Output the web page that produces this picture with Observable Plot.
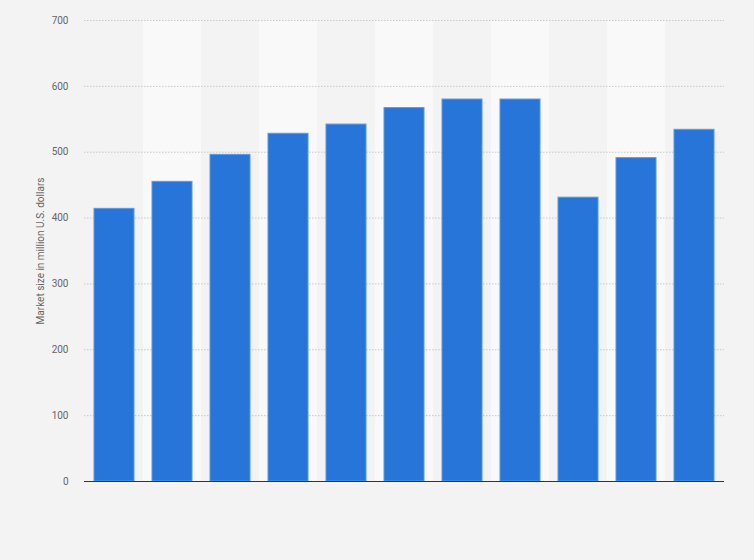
<!DOCTYPE html>
<html>
<head>
<meta charset="utf-8">
<script src="https://cdn.jsdelivr.net/npm/d3@7"></script>
<script src="https://cdn.jsdelivr.net/npm/@observablehq/plot@0.6"></script>
<style>
  html, body { margin: 0; padding: 0; background: #f3f3f3; }
  #chart { width: 754px; height: 560px; }
  svg { font-family: Roboto, "Liberation Sans", sans-serif; }
</style>
</head>
<body>
<div id="chart"></div>
<script>
const categories = ["2010", "2011", "2012", "2013", "2014", "2015", "2016", "2017", "2018", "2019", "2020"];
const values = [414, 455, 496, 528, 542, 567, 580, 580, 431, 491, 534];
const yTicks = [0, 100, 200, 300, 400, 500, 600, 700];
const yLabel = "Market size in million U.S. dollars";

const data = categories.map((c, i) => ({category: c, value: values[i], index: i}));
const stripes = data.filter(d => d.index % 2 === 1);

const width = 754, height = 560;
const margin = {top: 20, right: 30, bottom: 79, left: 84};
const padding = 0.31;
const step = (width - margin.left - margin.right) / (categories.length - padding + 2 * padding / 2);
const gap = step * padding / 2;

const chart = Plot.plot({
  width, height,
  marginTop: margin.top, marginRight: margin.right, marginBottom: margin.bottom, marginLeft: margin.left,
  style: {background: "#f3f3f3", fontSize: "10px", color: "#666"},
  x: {domain: categories, paddingInner: padding, paddingOuter: padding / 2, axis: null},
  y: {domain: [0, 700], ticks: yTicks, axis: null},
  marks: [
    Plot.barY(stripes, {x: "category", y1: 0, y2: 700, fill: "#f9f9f9", insetLeft: -gap, insetRight: -gap}),
    Plot.gridY(yTicks.filter(t => t > 0), {stroke: "#c8c8c8", strokeOpacity: 1, strokeDasharray: "1.5,1.5", strokeWidth: 1}),
    Plot.barY(data, {x: "category", y: "value", fill: "#2775d9", stroke: "#5b98e6", strokeWidth: 1}),
    Plot.ruleY([0], {stroke: "#333", strokeWidth: 1.2}),
    Plot.axisY({ticks: yTicks, tickSize: 0, tickPadding: 16, fill: "#666", fontSize: 10, label: null}),
    Plot.text([yLabel], {frameAnchor: "left", textAnchor: "middle", dx: -44, rotate: -90, fill: "#666", fontSize: 10})
  ]
});
document.getElementById("chart").appendChild(chart);
</script>
</body>
</html>
